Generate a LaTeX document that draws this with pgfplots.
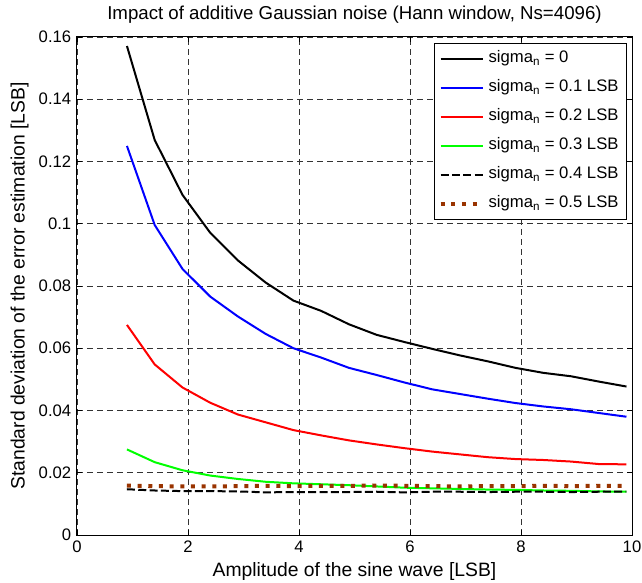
\documentclass[border=0pt]{standalone}
\usepackage{fontspec}
\setmainfont{Liberation Sans}
\usepackage{pgfplots}
\pgfplotsset{compat=1.18}
\definecolor{mlbrown}{RGB}{153,51,0}
\begin{document}
\fontsize{12.5}{15}\selectfont
\begin{tikzpicture}
\begin{axis}[
  scale only axis,
  width=416.25pt, height=373.5pt,
  xmin=0, xmax=10, ymin=0, ymax=0.16,
  xtick={0,2,4,6,8,10},
  ytick={0,0.02,0.04,0.06,0.08,0.1,0.12,0.14,0.16},
  yticklabels={0,0.02,0.04,0.06,0.08,0.1,0.12,0.14,0.16},
  /pgf/number format/assume math mode=true,
  tick align=inside,
  major tick length=3.75pt,
  tick style={black, line width=0.6pt},
  axis line style={line width=0.75pt},
  grid=major,
  major grid style={black!80, line width=0.45pt, dash pattern=on 4.5pt off 3pt},
  title={Impact of additive Gaussian noise (Hann window, Ns=4096)},
  title style={font=\fontsize{14}{17}\selectfont, yshift=0pt},
  xlabel={Amplitude of the sine wave [LSB]},
  ylabel={Standard deviation of the error estimation [LSB]},
  label style={font=\fontsize{14.5}{17}\selectfont},
  ylabel shift=-1pt,
  xlabel shift=-1pt,
  legend cell align=left,
  legend style={at={(0.991,0.988)}, anchor=north east, draw=black, line width=0.75pt,
    row sep=4.25pt, inner sep=3pt,
    nodes={text height=9.5pt, text depth=4pt, inner ysep=2pt, inner xsep=3pt}},
  legend image code/.code={\draw[#1] (0pt,0pt) -- (31.5pt,0pt);},
]
\addplot[black, line width=1.5pt] coordinates {
(0.9,0.1571)(1.4,0.1269)(1.9,0.1093)(2.4,0.0971)(2.9,0.0882)(3.4,0.0811)(3.9,0.0753)
(4.4,0.0720)(4.9,0.0677)(5.4,0.0643)(5.9,0.0620)(6.4,0.0598)(6.9,0.0577)(7.4,0.0558)
(7.9,0.0537)(8.4,0.0521)(8.9,0.0510)(9.4,0.0493)(9.9,0.0477)};
\addlegendentry{sigma\textsubscript{n} = 0}
\addplot[blue, line width=1.5pt] coordinates {
(0.9,0.1250)(1.4,0.0996)(1.9,0.0855)(2.4,0.0766)(2.9,0.0702)(3.4,0.0646)(3.9,0.0600)
(4.4,0.0570)(4.9,0.0537)(5.4,0.0514)(5.9,0.0490)(6.4,0.0468)(6.9,0.0453)(7.4,0.0438)
(7.9,0.0424)(8.4,0.0413)(8.9,0.0404)(9.4,0.0392)(9.9,0.0380)};
\addlegendentry{sigma\textsubscript{n} = 0.1 LSB}
\addplot[red, line width=1.5pt] coordinates {
(0.9,0.0675)(1.4,0.0548)(1.9,0.0474)(2.4,0.0425)(2.9,0.0387)(3.4,0.0362)(3.9,0.0337)
(4.4,0.0320)(4.9,0.0304)(5.4,0.0291)(5.9,0.0279)(6.4,0.0268)(6.9,0.0259)(7.4,0.0250)
(7.9,0.0244)(8.4,0.0241)(8.9,0.0236)(9.4,0.0228)(9.9,0.0227)};
\addlegendentry{sigma\textsubscript{n} = 0.2 LSB}
\addplot[green, line width=1.5pt] coordinates {
(0.9,0.0275)(1.4,0.0234)(1.9,0.0208)(2.4,0.0191)(2.9,0.0180)(3.4,0.0171)(3.9,0.0166)
(4.4,0.0163)(4.9,0.0160)(5.4,0.0156)(5.9,0.0152)(6.4,0.0150)(6.9,0.0148)(7.4,0.0146)
(7.9,0.0145)(8.4,0.0143)(8.9,0.0142)(9.4,0.0140)(9.9,0.0139)};
\addlegendentry{sigma\textsubscript{n} = 0.3 LSB}
\addplot[black, line width=1.5pt, dash pattern=on 6pt off 2.5pt] coordinates {
(0.9,0.0147)(1.4,0.0143)(1.9,0.0141)(2.4,0.0141)(2.9,0.0140)(3.4,0.0137)(3.9,0.0138)
(4.4,0.0138)(4.9,0.0138)(5.4,0.0139)(5.9,0.0137)(6.4,0.0139)(6.9,0.0139)(7.4,0.0138)
(7.9,0.0139)(8.4,0.0139)(8.9,0.0138)(9.4,0.0139)(9.9,0.0139)};
\addlegendentry{sigma\textsubscript{n} = 0.4 LSB}
\addplot[mlbrown, line width=3pt, dash pattern=on 3pt off 5pt] coordinates {
(0.9,0.0159)(1.4,0.0157)(1.9,0.0156)(2.4,0.0156)(2.9,0.0157)(3.4,0.0158)(3.9,0.0157)
(4.4,0.0158)(4.9,0.0158)(5.4,0.0159)(5.9,0.0158)(6.4,0.0157)(6.9,0.0156)(7.4,0.0157)
(7.9,0.0157)(8.4,0.0158)(8.9,0.0157)(9.4,0.0158)(9.9,0.0158)};
\addlegendentry{sigma\textsubscript{n} = 0.5 LSB}
\end{axis}
\pgfresetboundingbox
\path (current axis.south west) ++(-57.75pt,-35.25pt) coordinate (bbsw);
\path (current axis.north east) ++(7.5pt,27.75pt) coordinate (bbne);
\useasboundingbox (bbsw) rectangle (bbne);
\end{tikzpicture}
\end{document}
